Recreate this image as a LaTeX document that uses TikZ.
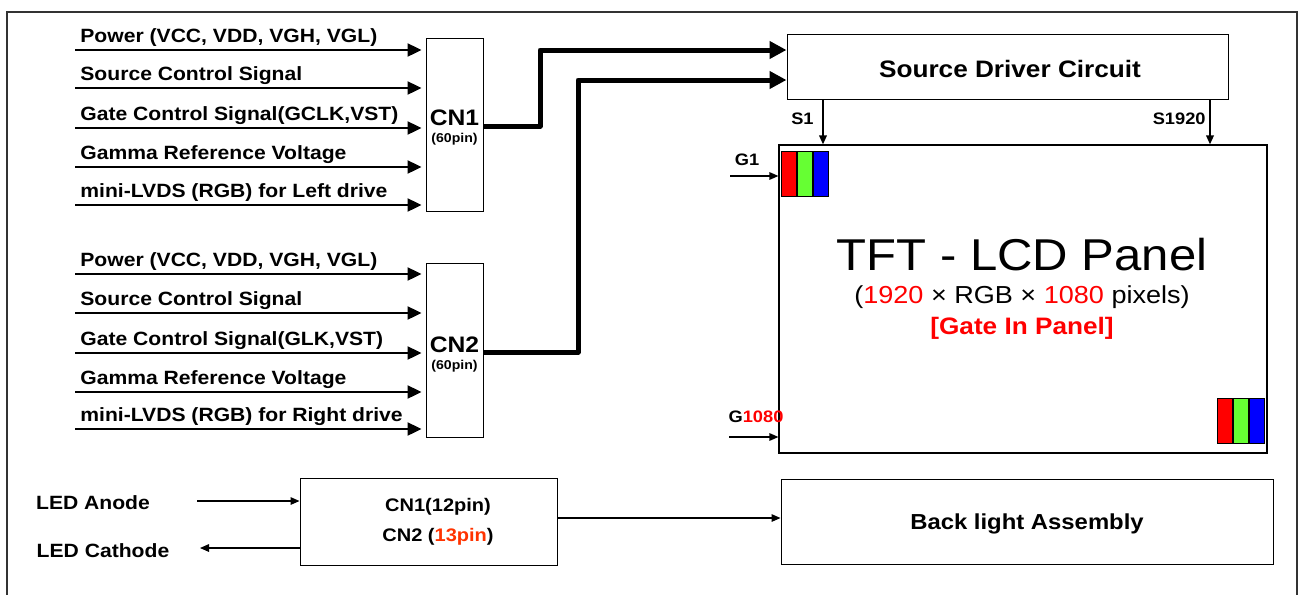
\documentclass[tikz,border=0pt]{standalone}
\usepackage{fontspec}
\setmainfont{Liberation Sans}[FakeStretch=1.1]
\usetikzlibrary{arrows.meta,positioning,calc}
\definecolor{pixred}{HTML}{FF0000}
\definecolor{pixgreen}{HTML}{66FF33}
\definecolor{pixblue}{HTML}{0000FF}
\definecolor{pinorange}{HTML}{FF3300}
\definecolor{framegray}{HTML}{333333}
\tikzset{
  sig/.style = {font=\fontsize{9.6}{11}\selectfont\bfseries, inner sep=0pt},
  conn/.style = {rectangle, draw, line width=0.5pt, minimum width=28.5pt,
    minimum height=86.5pt, inner sep=0pt},
  cntext/.style = {inner sep=0pt, align=center},
  block/.style = {rectangle, draw, line width=0.5pt, inner sep=0pt, align=center},
  pin/.style = {font=\fontsize{8.3}{9}\selectfont\bfseries, inner sep=0pt},
  sigarrow/.style = {line width=1.2pt, -{Triangle[length=7pt,width=6.5pt]}, shorten >=2pt},
  bus/.style = {line width=2.5pt, line join=round, -{Triangle[length=8.5pt,width=8.5pt]}},
  wire/.style = {line width=0.6pt, -{Triangle[length=4.5pt,width=3.8pt]}},
  stripe/.style = {line width=0.8pt, draw=black}
}

\begin{document}
\begin{tikzpicture}[x=0.5pt, y=-0.5pt]
\useasboundingbox (0,0) rectangle (1303,595);

% outer frame (bottom edge is cut off)
\draw[framegray, line width=1pt] (7,600) -- (7,12) -- (1297,12) -- (1297,600);

% connectors for the two drive sides
\node[conn] (cnA) at (454.5,124.5) {};
\node[conn, minimum height=87pt] (cnB) at (454.5,350) {};
\node[cntext] (cnAtxt) at (454.5,128) {\fontsize{11.2}{12}\selectfont\bfseries CN1\\[-3.5pt]
  \fontsize{6.4}{7}\selectfont\bfseries (60pin)};
\node[cntext] (cnBtxt) at (454.5,355) {\fontsize{11.2}{12}\selectfont\bfseries CN2\\[-3.5pt]
  \fontsize{6.4}{7}\selectfont\bfseries (60pin)};

\foreach \y/\txt [count=\i] in {50/{Power (VCC, VDD, VGH, VGL)}, 88/{Source Control Signal},
    128/{Gate Control Signal(GCLK,VST)}, 167/{Gamma Reference Voltage},
    205/{mini-LVDS (RGB) for Left drive}} {
  \coordinate (ina\i) at (75,\y);
  \node[sig, anchor=base west] (laba\i) at (80,\y-8) {\txt};
  \draw[sigarrow] (ina\i) -- (ina\i -| cnA.west);
}
\foreach \y/\txt [count=\i] in {274/{Power (VCC, VDD, VGH, VGL)}, 313/{Source Control Signal},
    353/{Gate Control Signal(GLK,VST)}, 392/{Gamma Reference Voltage},
    429/{mini-LVDS (RGB) for Right drive}} {
  \coordinate (inb\i) at (75,\y);
  \node[sig, anchor=base west] (labb\i) at (80,\y-8) {\txt};
  \draw[sigarrow] (inb\i) -- (inb\i -| cnB.west);
}

% source driver and panel
\node[block, minimum width=220.5pt, minimum height=32.5pt] (src) at (1007.5,66.5) {};
\node[cntext, font=\fontsize{11.9}{13}\selectfont\bfseries] (srctxt) at (1010,69) {Source Driver Circuit};
\node[block, line width=0.6pt, minimum width=244pt, minimum height=154pt] (panel) at (1023,299) {};

\node[font=\fontsize{22.3}{24}\selectfont, inner sep=0pt] (title) at (1022,255) {TFT - LCD Panel};
\node[font=\fontsize{12.3}{13}\selectfont, inner sep=0pt] (res) at (1022,297)
  {(\textcolor{pixred}{1920} × RGB × \textcolor{pixred}{1080} pixels)};
\node[font=\fontsize{11.9}{13}\selectfont\bfseries, text=pixred, inner sep=0pt] (gip) at (1022,328)
  {[Gate In Panel]};

\draw[bus] (cnA.east |- 0,126) -- (540,126) -- (540,50) -- (src.west |- 0,50);
\draw[bus] (cnB.east |- 0,352) -- (578,352) -- (578,80) -- (src.west |- 0,80);

% source and gate lines
\coordinate (sa) at (823,0);
\coordinate (sb) at (1210,0);
\draw[wire, line width=0.8pt] (src.south -| sa) -- (panel.north -| sa);
\draw[wire, line width=0.8pt] (src.south -| sb) -- (panel.north -| sb);
\node[pin, anchor=east] (s1) at (814,119) {S1};
\node[pin, anchor=east] (s1920) at (1206,119) {S1920};

\coordinate (ga) at (730,176);
\coordinate (gb) at (729,437);
\draw[wire] (ga) -- (ga -| panel.west);
\draw[wire] (gb) -- (gb -| panel.west);
\node[pin] (g1) at (747,160) {G1};
\node[pin] (g1080) at (756,417) {G\textcolor{pixred}{1080}};

% RGB pixels
\foreach \c [count=\k from 0] in {pixred,pixgreen,pixblue} {
  \filldraw[stripe, fill=\c] ($(panel.north west)+(3+\k*15.67,7)$) rectangle ++(15.67,45);
  \filldraw[stripe, fill=\c] ($(panel.south east)+(-50+\k*15.67,-55)$) rectangle ++(15.67,45);
}

% backlight
\node[block, minimum width=128.5pt, minimum height=43.5pt] (ledcn) at (428.5,521.5) {};
\node[cntext, font=\fontsize{9.1}{13.5}\selectfont\bfseries] (ledcntxt) at (438,522)
  {CN1(12pin)\\[1.5pt] CN2 (\textcolor{pinorange}{13pin})};
\node[block, minimum width=246pt, minimum height=42.5pt] (bl) at (1027,521.5) {};
\node[cntext, font=\fontsize{10.85}{12}\selectfont\bfseries] (bltxt) at (1027,524) {Back light Assembly};

\node[sig] (anode) at (93,503) {LED Anode};
\node[sig] (cathode) at (103,551) {LED Cathode};
\coordinate (an) at (197,501);
\coordinate (ca) at (200,548);
\draw[wire] (an) -- (an -| ledcn.west);
\draw[wire] (ca -| ledcn.west) -- (ca);
\draw[wire] (ledcn.east |- 0,518) -- (bl.west |- 0,518);

\end{tikzpicture}
\end{document}
